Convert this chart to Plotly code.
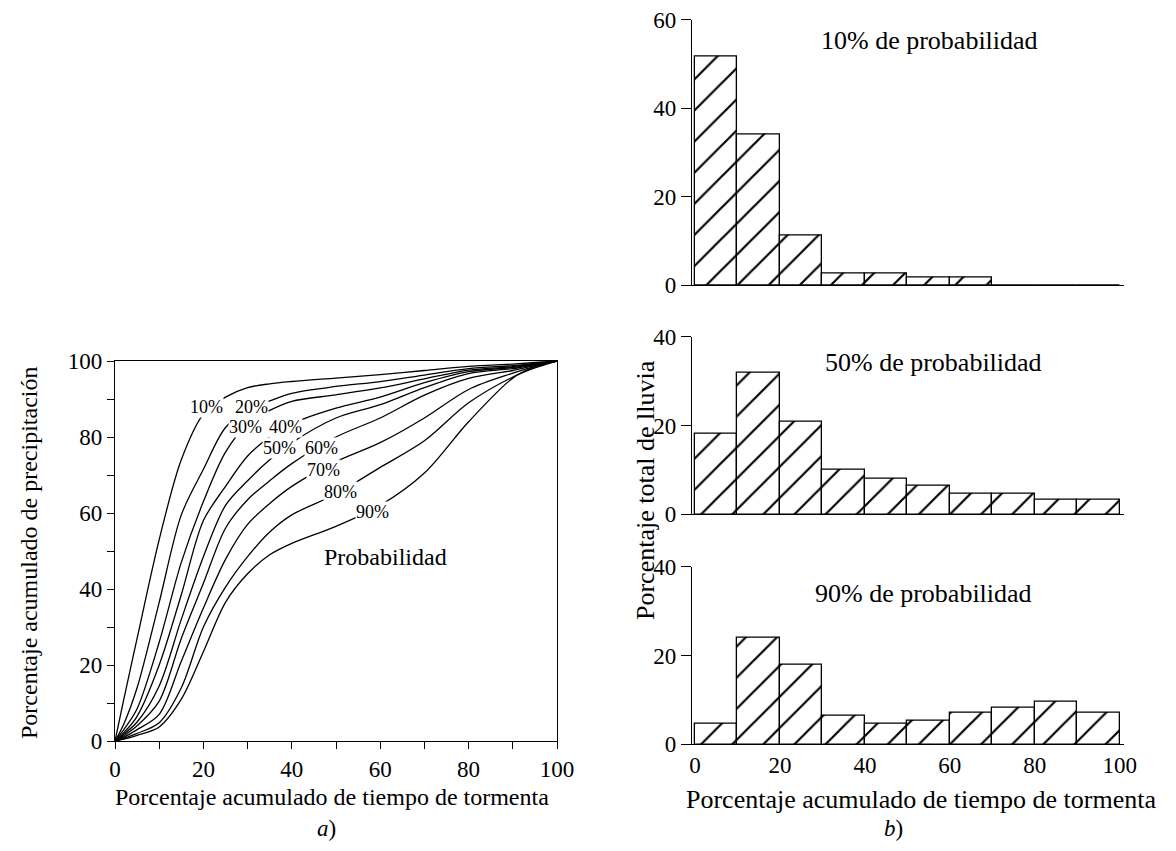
import plotly.graph_objects as go

# ---------------- data ----------------
time_pct = [0, 2, 5, 10, 15, 20, 25, 30, 35, 40, 50, 60, 70, 80, 90, 95, 100]
curve_p10 = [0, 11, 27, 53, 74, 86, 90.5, 93, 94, 94.6, 95.5, 96.4, 97.5, 98.6, 99.2, 99.6, 100]
curve_p20 = [0, 4.5, 14, 36.5, 59.5, 71.5, 82.5, 87, 89.5, 91.5, 93.3, 94.6, 96.3, 98, 98.8, 99.4, 100]
curve_p30 = [0, 3, 8.5, 26, 47, 63, 76, 83.5, 87, 89.4, 91.1, 92.9, 95.3, 97.6, 98.5, 99.2, 100]
curve_p40 = [0, 2.2, 6.5, 20, 38.5, 58, 67, 75, 80, 83.5, 87.6, 90.5, 94.3, 97.2, 98.3, 99.1, 100]
curve_p50 = [0, 1.8, 5, 14.5, 32, 48.5, 62, 68.5, 74, 78.5, 85, 88.5, 93, 96.7, 98, 99, 100]
curve_p60 = [0, 1.4, 4, 10.5, 27, 41.5, 56, 63.5, 68.5, 73, 80, 85, 91, 95.4, 97.5, 98.8, 100]
curve_p70 = [0, 1.0, 3, 7, 21, 35, 47.8, 57, 62.5, 67, 73.5, 78.5, 85, 92.5, 96.8, 98.6, 100]
curve_p80 = [0, 0.7, 2, 4.8, 14, 30, 40.5, 48.5, 55, 59.5, 65, 72, 79, 89, 95.8, 98.2, 100]
curve_p90 = [0, 0.5, 1.5, 3.7, 11, 23.5, 36.5, 44, 49, 52, 56.5, 62, 70.5, 84, 95.5, 98.5, 100]
curves = [curve_p10, curve_p20, curve_p30, curve_p40, curve_p50,
          curve_p60, curve_p70, curve_p80, curve_p90]
curve_labels = ["10%", "20%", "30%", "40%", "50%", "60%", "70%", "80%", "90%"]
label_x = [20.7, 30.8, 29.6, 38.6, 37.3, 46.8, 47.1, 51.1, 58.3]
label_y = [88.0, 88.0, 82.6, 82.6, 77.0, 77.0, 71.3, 65.6, 60.3]

bin_center = [5, 15, 25, 35, 45, 55, 65, 75, 85, 95]
rain_p10 = [51.6, 34.1, 11.1, 2.5, 2.6, 1.7, 1.7, 0, 0, 0]
rain_p50 = [18.2, 31.9, 20.8, 10.1, 8.1, 6.5, 4.6, 4.6, 3.2, 3.2]
rain_p90 = [4.7, 23.9, 17.9, 6.5, 4.7, 5.3, 7.2, 8.3, 9.5, 7.1]
hist_titles = ["10% de probabilidad", "50% de probabilidad", "90% de probabilidad"]

# the page body has an 8px margin; the figure is sized so the page fills the window
OFF = 8
W, H = 1176 - 2 * OFF, 851 - 2 * OFF
FONT = "Liberation Serif"


def px(x):
    return (x - OFF) / W


def py(y):
    return 1 - (y - OFF) / H


fig = go.Figure()

# ---------------- left panel: mass curves ----------------
for c in curves:
    fig.add_trace(go.Scatter(x=time_pct, y=c, mode="lines",
                             line=dict(color="black", width=1.3, shape="spline", smoothing=0.9),
                             xaxis="x", yaxis="y", showlegend=False, hoverinfo="skip"))

# ---------------- right panel: histograms ----------------
for rain, xa, ya in [(rain_p10, "x2", "y2"), (rain_p50, "x3", "y3"), (rain_p90, "x4", "y4")]:
    fig.add_trace(go.Bar(x=bin_center, y=rain, width=10, xaxis=xa, yaxis=ya,
                         marker=dict(color="white",
                                     line=dict(color="black", width=1.3),
                                     pattern=dict(shape="/", fgcolor="black", bgcolor="white",
                                                  size=22, solidity=0.1, fgopacity=1)),
                         showlegend=False, hoverinfo="skip"))

axis_common = dict(showgrid=False, zeroline=False, linecolor="black", linewidth=1.3,
                   automargin=False, ticklabeloverflow="allow",
                   tickcolor="black", tickfont=dict(family=FONT, size=23, color="black"))

layout = dict(
    width=W, height=H, margin=dict(l=0, r=0, t=0, b=0, autoexpand=False),
    paper_bgcolor="white", plot_bgcolor="white", bargap=0,
    xaxis=dict(domain=[px(115), px(557)], range=[0, 100], dtick=20, ticks="outside",
               ticklen=7, showline=True, mirror=True,
               minor=dict(dtick=10, ticks="outside", ticklen=7, tickcolor="black"),
               anchor="y", **axis_common),
    yaxis=dict(domain=[py(741), py(361)], range=[0, 100], dtick=20, ticks="outside",
               ticklen=7, showline=True, mirror=True,
               minor=dict(dtick=10, ticks="outside", ticklen=7, tickcolor="black"),
               anchor="x", **axis_common),
)

hx_dom = [px(692), px(1124)]
hist_y = [(285, 19.5, 60), (514.3, 336.7, 40), (744.3, 566.7, 40)]
for i, (y0, y1, top) in enumerate(hist_y):
    n = i + 2
    layout[f"xaxis{n}"] = dict(domain=hx_dom, range=[-0.7, 101], anchor=f"y{n}",
                               showline=True, ticks="",
                               showticklabels=(n == 4), dtick=20, tick0=0,
                               **axis_common)
    layout[f"yaxis{n}"] = dict(domain=[py(y0), py(y1)], range=[0, top], anchor=f"x{n}",
                               showline=True, ticks="outside", ticklen=10, dtick=20,
                               **axis_common)

fig.update_layout(**layout)


def note(x, y, text, size, angle=0, ref="paper", bg=None, yanchor="middle"):
    d = dict(x=x, y=y, xref=ref if ref == "paper" else "x", yref=ref if ref == "paper" else "y",
             text=text, showarrow=False, xanchor="center", yanchor=yanchor,
             textangle=angle, font=dict(family=FONT, size=size, color="black"))
    if bg:
        d["bgcolor"] = bg
        d["borderpad"] = 0
    return d


ann = []
for t, x, y in zip(curve_labels, label_x, label_y):
    ann.append(note(x, y, t, 18, ref="data", bg="white"))
ann.append(note(px(385), py(557), "Probabilidad", 24))
for t, (x, y) in zip(hist_titles, [(929, 40), (933, 362), (923, 593)]):
    ann.append(note(px(x), py(y), t, 26))
# axis titles
ann.append(note(px(332), py(797), "Porcentaje acumulado de tiempo de tormenta", 24))
ann.append(note(px(921), py(799), "Porcentaje acumulado de tiempo de tormenta", 26))
ann.append(note(px(29), py(553), "Porcentaje acumulado de precipitación", 24, angle=-90))
ann.append(note(px(645), py(490), "Porcentaje total de lluvia", 26, angle=-90))
ann.append(note(px(326), 0, "<i>a</i>)", 23, yanchor="bottom"))
ann.append(note(px(893), 0, "<i>b</i>)", 23, yanchor="bottom"))
fig.update_layout(annotations=ann)

fig.write_html("out.html")
